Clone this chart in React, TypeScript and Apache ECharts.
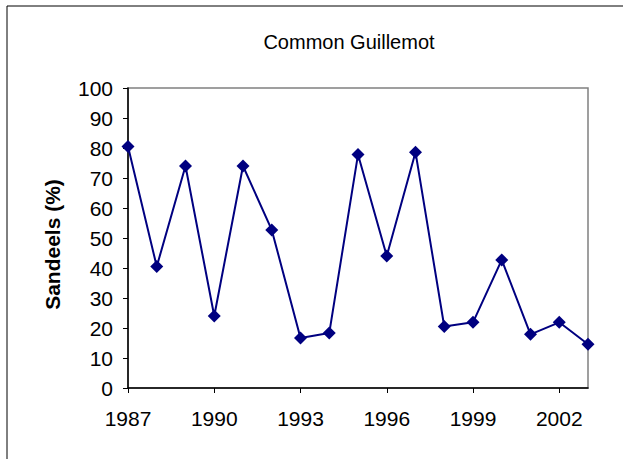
import React, { useEffect, useRef } from "react";
import * as echarts from "echarts";

const years = ["1987","1988","1989","1990","1991","1992","1993","1994","1995","1996","1997","1998","1999","2000","2001","2002","2003"];
const sandeels = [80.5, 40.5, 74, 24, 74, 52.7, 16.7, 18.3, 77.8, 44, 78.6, 20.5, 21.9, 42.7, 17.9, 21.9, 14.6];
const titleText = "Common Guillemot";
const yName = "Sandeels (%)";

const FONT = "'Liberation Sans', Arial, sans-serif";

export default function App() {
  const ref = useRef<HTMLDivElement>(null);
  useEffect(() => {
    if (!ref.current) return;
    const chart = echarts.init(ref.current, null, { renderer: "svg" });
    chart.setOption({
      animation: false,
      backgroundColor: "#ffffff",
      title: {
        text: titleText,
        left: 344,
        top: 27,
        textAlign: "center",
        textStyle: { fontFamily: FONT, fontSize: 20, fontWeight: "normal", color: "#000" },
      },
      graphic: [
        { type: "line", shape: { x1: 7, y1: 6, x2: 7, y2: 459 }, style: { stroke: "#000", lineWidth: 1 } },
        { type: "line", shape: { x1: 7, y1: 6, x2: 623, y2: 6 }, style: { stroke: "#000", lineWidth: 1 } },
      ],
      grid: {
        left: 128,
        right: 40,
        top: 88,
        bottom: 71,
        show: true,
        borderColor: "#808080",
        borderWidth: 1.5,
      },
      xAxis: {
        type: "category",
        data: years,
        boundaryGap: false,
        axisLine: { lineStyle: { color: "#000", width: 1.5 } },
        axisTick: { interval: 2, length: 5, lineStyle: { color: "#000" } },
        axisLabel: { interval: 2, margin: 20, fontFamily: FONT, fontSize: 21, color: "#000" },
        splitLine: { show: false },
      },
      yAxis: {
        type: "value",
        min: 0,
        max: 100,
        interval: 10,
        name: yName,
        nameLocation: "middle",
        nameGap: 65,
        nameTextStyle: { fontFamily: FONT, fontSize: 21, fontWeight: "bold", color: "#000", padding: [0, 13, 0, 0] },
        axisLine: { show: true, lineStyle: { color: "#000", width: 1.5 } },
        axisTick: { show: true, length: 5, lineStyle: { color: "#000" } },
        axisLabel: { margin: 15, fontFamily: FONT, fontSize: 21, color: "#000" },
        splitLine: { show: false },
      },
      series: [
        {
          type: "line",
          data: sandeels,
          symbol: "diamond",
          symbolSize: 13,
          lineStyle: { color: "#000080", width: 2 },
          itemStyle: { color: "#000080" },
        },
      ],
    });
    return () => chart.dispose();
  }, []);
  return (
    <div
      ref={ref}
      style={{ position: "fixed", left: 0, top: 0, width: 628, height: 459 }}
    />
  );
}
